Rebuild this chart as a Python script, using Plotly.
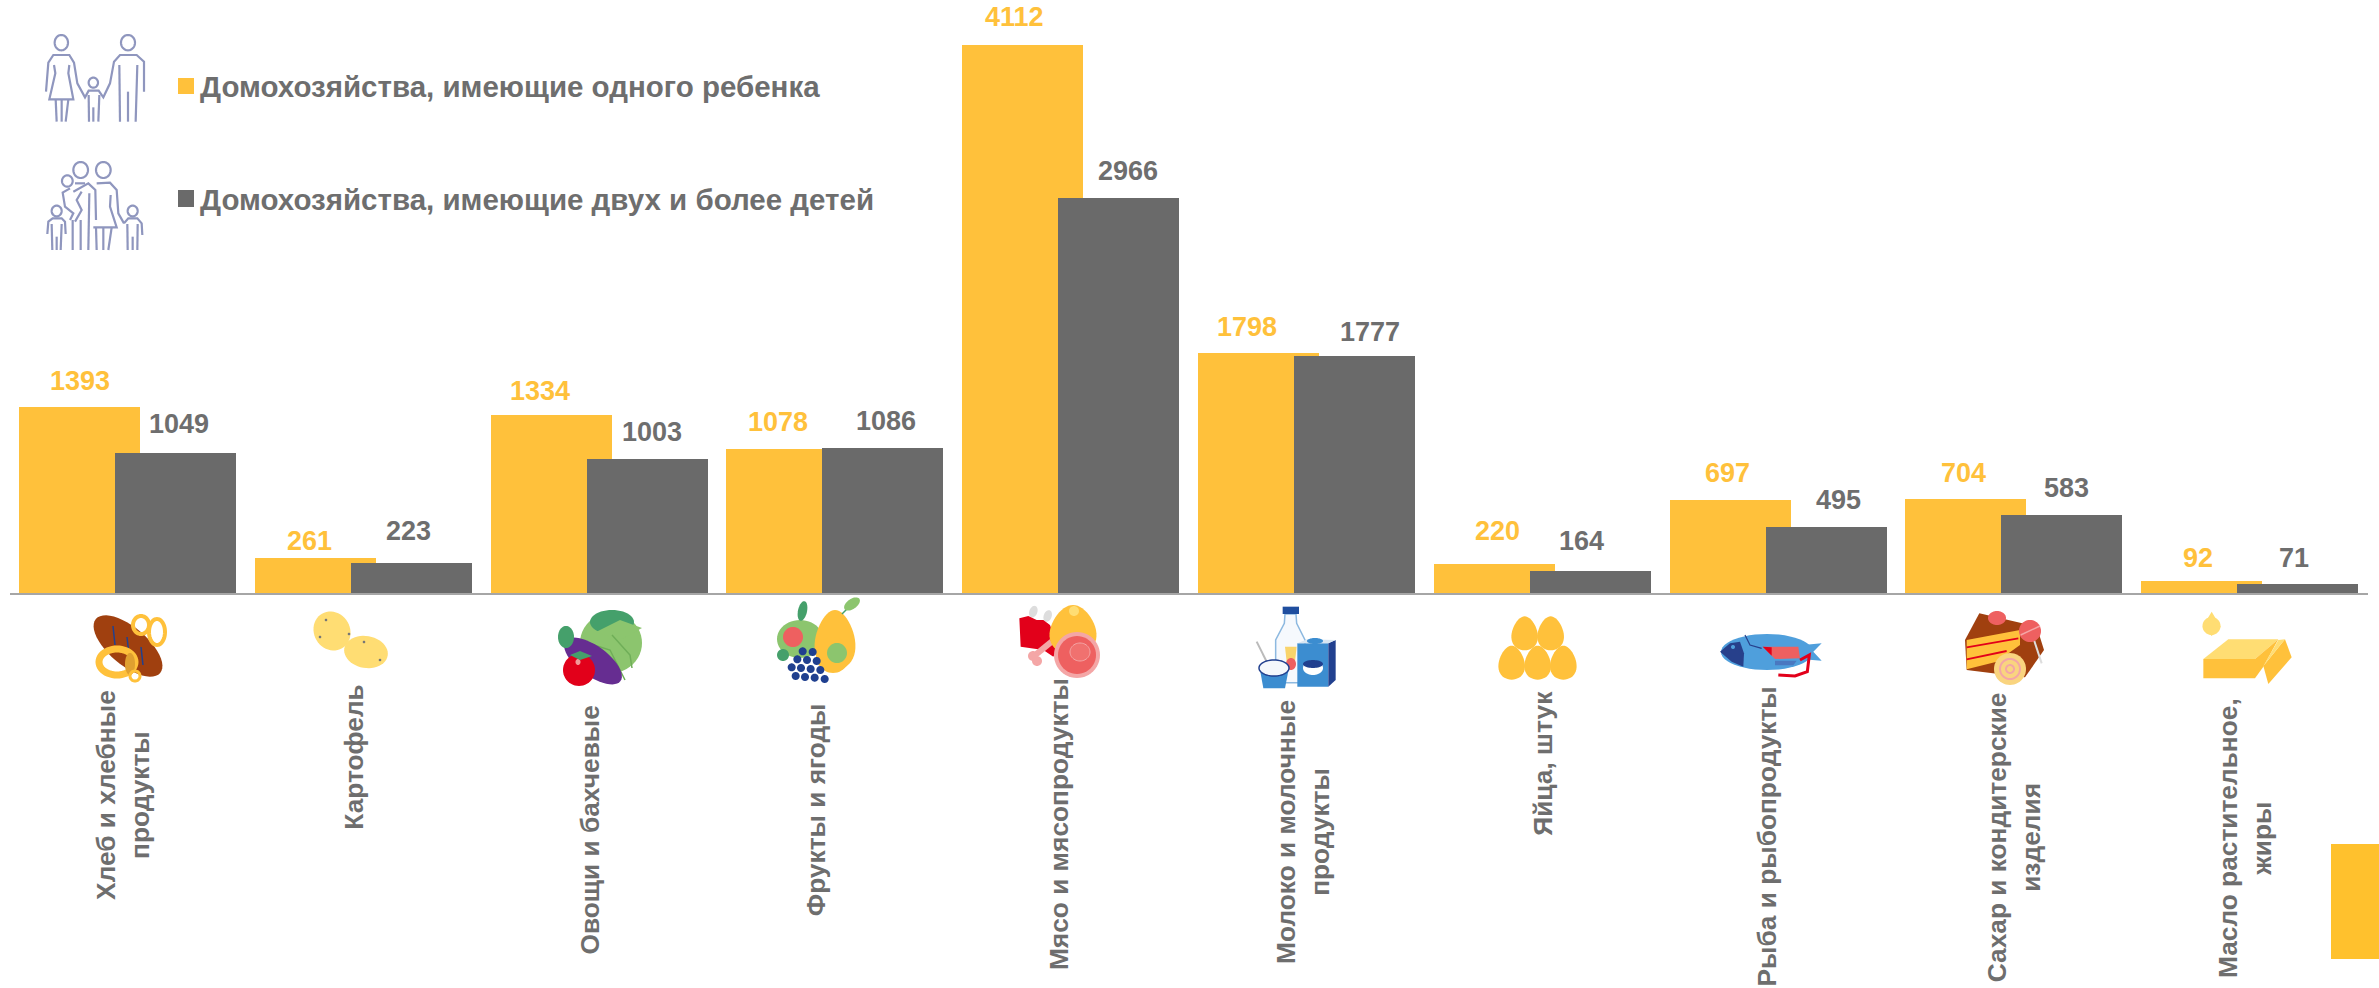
import math
import plotly.graph_objects as go

# ---------- data ----------
categories = ["Хлеб и хлебные<br>продукты", "Картофель", "Овощи и бахчевые", "Фрукты и ягоды",
              "Мясо и мясопродукты", "Молоко и молочные<br>продукты", "Яйца, штук",
              "Рыба и рыбопродукты", "Сахар и кондитерские<br>изделия", "Масло растительное,<br>жиры"]
one_child = [1393, 261, 1334, 1078, 4112, 1798, 220, 697, 704, 92]
two_plus = [1049, 223, 1003, 1086, 2966, 1777, 164, 495, 583, 71]
name_one = "Домохозяйства, имеющие одного ребенка"
name_two = "Домохозяйства, имеющие двух и более детей"

# ---------- label placement (pixels) ----------
one_dx = [0, -6, -12, -9, -9, -12, 3, -3, -3, -4]
two_dx = [3, -3, 4, 3, 9, 15, -9, 12, 4, -4]
one_dy = [26, 17, 24, 27, 28, 26, 33, 27, 26, 23]
two_dy = [29, 32, 27, 27, 27, 24, 30, 27, 27, 26]
cat_label_dx = [-5, -10, -10, -19, -12, -4, 0, -12, 0, -5]
cat_label_cy = [795, 757, 830, 810, 824, 832, 763, 837, 837, 838]

YELLOW = "#FFC13B"
GRAY = "#6A6A6A"
TEXT = "#6E6E6E"
FONT = "Liberation Sans"
W, H = 2379, 988
L, R_EDGE, BASE = 10, 2368, 593
PX_PER_UNIT = 0.13333


def px(x):
    return (x - L) / (R_EDGE - L)


def py(y):
    return (BASE - y) / BASE


shapes = []


def poly(pts, color, close=True, stroke=None, sw=0):
    d = "M" + " L".join(f"{px(x):.5f},{py(y):.5f}" for x, y in pts) + (" Z" if close else "")
    shapes.append(dict(type="path", xref="paper", yref="paper", path=d,
                       fillcolor=color if close else "rgba(0,0,0,0)",
                       line=dict(color=stroke or "rgba(0,0,0,0)", width=sw)))


def ell(cx, cy, rx, ry=None, color=YELLOW, rot=0, stroke=None, sw=0, fill=True):
    ry = rx if ry is None else ry
    c, s = math.cos(math.radians(rot)), math.sin(math.radians(rot))
    pts = []
    for i in range(48):
        t = 2 * math.pi * i / 48
        a, b = rx * math.cos(t), ry * math.sin(t)
        pts.append((cx + a * c - b * s, cy + a * s + b * c))
    d = "M" + " L".join(f"{px(x):.5f},{py(y):.5f}" for x, y in pts) + " Z"
    shapes.append(dict(type="path", xref="paper", yref="paper", path=d,
                       fillcolor=color if fill else "rgba(0,0,0,0)",
                       line=dict(color=stroke or "rgba(0,0,0,0)", width=sw)))


def egg(cx, cy, rx, ry, color=YELLOW, rot=0):
    c, s = math.cos(math.radians(rot)), math.sin(math.radians(rot))
    pts = []
    for i in range(48):
        t = 2 * math.pi * i / 48
        a = rx * math.cos(t) * (1 + 0.22 * math.sin(t))
        b = ry * math.sin(t)
        pts.append((cx + a * c - b * s, cy + a * s + b * c))
    poly(pts, color)


def z3(x0, y0, pts):
    return [(x0 + x / 3, y0 + y / 3) for x, y in pts]


LILAC, GREEN, DKGREEN, RED, PINK, LTPINK = "#8F96BE", "#8CC56E", "#45A06B", "#E2001A", "#EE6060", "#F4A6A6"
BLUE, NAVY, PALE = "#3C8DD0", "#21408F", "#FFDD73"
BROWN = "#A0400F"

# ----- family icons -----
def stick(pts):
    poly(z3(20, 20, pts), "", close=False, stroke=LILAC, sw=2.2)


def head(x, y, rx, ry):
    ell(20 + x / 3, 20 + y / 3, rx / 3, ry / 3, color="white", stroke=LILAC, sw=2.2, fill=False)


head(124, 68, 20, 23)
stick([(78, 215), (85, 128), (100, 105), (148, 105), (162, 128), (172, 190), (195, 232), (206, 212), (236, 212), (250, 232), (270, 190), (282, 125), (300, 105), (350, 105), (372, 125), (372, 215)])
stick([(102, 135), (106, 160), (88, 238), (160, 238), (145, 160), (148, 135)])
stick([(107, 238), (110, 305)]); stick([(125, 238), (125, 305)]); stick([(145, 238), (137, 305)])
head(220, 188, 14, 15)
stick([(206, 225), (207, 305)]); stick([(238, 225), (235, 305)]); stick([(220, 262), (220, 305)])
head(324, 68, 21, 23)
stick([(298, 135), (300, 305)]); stick([(352, 135), (347, 305)]); stick([(324, 215), (324, 305)])

head(182, 450, 22, 24)
head(250, 450, 22, 24)
head(142, 483, 16, 17)
stick([(165, 490), (195, 490)])
stick([(150, 505), (128, 518), (135, 560), (160, 580), (150, 600)])
stick([(160, 515), (205, 490), (226, 510), (228, 600)])
stick([(185, 515), (170, 540), (185, 570), (165, 605)])
stick([(230, 490), (270, 488), (290, 510), (295, 580), (312, 610)])
stick([(272, 525), (270, 560), (290, 622), (220, 622)])
stick([(158, 600), (158, 690)]); stick([(182, 600), (182, 690)]); stick([(208, 520), (205, 690)])
stick([(228, 622), (230, 690)]); stick([(250, 622), (250, 690)]); stick([(275, 622), (265, 690)])
head(110, 573, 15, 16)
stick([(82, 642), (85, 605), (98, 595), (125, 595), (135, 605), (137, 642)])
stick([(95, 612), (97, 690)]); stick([(125, 612), (122, 690)]); stick([(110, 650), (110, 690)])
head(338, 573, 15, 16)
stick([(312, 610), (325, 595), (352, 595), (365, 610), (367, 645)])
stick([(322, 612), (323, 690)]); stick([(353, 612), (352, 690)]); stick([(338, 650), (338, 690)])

# ----- bread -----
ell(128, 646, 19, 42, BROWN, rot=-50)
for a, b in [((113, 626), (115, 645)), ((127, 637), (129, 655)), ((141, 647), (143, 665))]:
    poly([a, b], "", close=False, stroke="#21408F", sw=1.5)
ell(141, 625, 8, 9, stroke=YELLOW, sw=4, fill=False)
ell(157, 632, 8, 13, stroke=YELLOW, sw=4, fill=False)
ell(117, 662, 18, 13, stroke=YELLOW, sw=7, fill=False)
ell(130, 664, 5, 11, "#E0A030")
ell(135, 676, 5, 5, stroke=YELLOW, sw=3, fill=False)

# ----- potatoes -----
ell(332, 631, 20, 18, PALE, rot=60)
ell(366, 652, 22, 16, PALE, rot=10)
for x, y in [(326, 620), (349, 634), (320, 637), (380, 660), (364, 642)]:
    ell(x, y, 1.3, 1.3, "#777777")

# ----- vegetables -----
ell(611, 643, 31, 30, GREEN)
ell(612, 622, 22, 12, DKGREEN)
poly([(596, 632), (620, 620), (642, 628), (620, 640)], GREEN)
poly([(578, 640), (610, 650), (625, 680)], "", close=False, stroke="#6FAE58", sw=1.5)
poly([(612, 635), (630, 655), (632, 668)], "", close=False, stroke="#6FAE58", sw=1.5)
ell(593, 661, 34, 15, "#662D91", rot=36)
ell(566, 637, 8, 11, DKGREEN)
ell(579, 670, 16, 16, RED)
ell(578, 662, 2.5, 3, "#F29A9A")
poly([(570, 655), (580, 651), (592, 656), (580, 660)], DKGREEN)

# ----- fruit -----
F = (750, 590)
ell(800, 639, 23, 19, GREEN)
ell(793, 637, 10, 10, PINK)
ell(802.5, 611, 4.5, 10, DKGREEN, rot=12)
egg(835, 640, 20, 30, YELLOW)
ell(833, 655, 17, 18, YELLOW)
ell(837, 653, 10, 10, GREEN)
poly([(842, 614), (850, 606)], "", close=False, stroke=DKGREEN, sw=1.5)
ell(852, 604, 9, 5, GREEN, rot=-35)
ell(783, 655, 6, 6, DKGREEN)
grapes = [(158, 184), (188, 186), (142, 208), (171, 210), (200, 213), (125, 232), (153, 234),
          (182, 237), (211, 240), (137, 258), (165, 261), (194, 263), (224, 267)]
for x, y in z3(*F, grapes):
    ell(x, y, 4, 4, "#1F3F8F")

# ----- meat -----
for x, y in z3(*F, [(850, 65), (893, 78)]):
    ell(x, y, 4, 6, "#DDDDDD", rot=20)
poly(z3(*F, [(808, 85), (835, 78), (860, 90), (880, 90), (900, 105), (925, 170), (910, 200), (880, 180), (812, 170)]), RED)
poly(z3(*F, [(850, 200), (905, 155)]), "", close=False, stroke=LTPINK, sw=6)
ell(1033, 656, 5, 5, LTPINK); ell(1037, 661, 5, 5, LTPINK)
egg(1073, 630, 23, 25, YELLOW)
ell(1074, 611, 5, 5, PALE)
ell(1077, 655, 23, 23, LTPINK)
ell(1077, 655, 19, 19, PINK)
ell(1080, 652, 10, 9, "#F0716F", stroke=LTPINK, sw=1)

# ----- milk -----
M = (1230, 590)
poly(z3(*M, [(165, 72), (198, 72), (200, 100), (225, 150), (225, 278), (137, 278), (137, 150), (163, 100)]), "#F6F9FD", stroke="#8DB9E0", sw=1.5)
poly(z3(*M, [(158, 50), (207, 50), (207, 72), (158, 72)]), "#1F4E9F")
poly(z3(*M, [(165, 170), (200, 170), (195, 215), (170, 215)]), "#F9D46B")
ell(1291, 664, 5, 6, PINK)
poly(z3(*M, [(202, 160), (295, 160), (295, 290), (202, 290)]), BLUE)
poly(z3(*M, [(295, 160), (317, 150), (317, 270), (295, 290)]), NAVY)
poly(z3(*M, [(202, 160), (232, 148), (317, 150), (295, 160)]), "#D8E6F2")
ell(1315, 641, 8, 3, BLUE)
ell(1313, 668, 10, 7, "#FFFFFF")
ell(1313, 664, 10, 4, NAVY)
poly(z3(*M, [(80, 155), (115, 225)]), "", close=False, stroke="#BBBBBB", sw=2)
poly(z3(*M, [(88, 228), (178, 228), (165, 295), (100, 295)]), BLUE)
ell(1274, 668, 15, 8, "#F4F8FC", stroke=NAVY, sw=1.5)

# ----- eggs -----
E = (1230, 590)
for x, y in z3(*E, [(884, 130), (962, 130), (845, 218), (923, 218), (1000, 218)]):
    egg(x, y, 13, 17, YELLOW)

# ----- fish -----
G = (1690, 590)
poly(z3(*G, [(340, 165), (395, 160), (370, 185), (395, 212), (340, 208)]), "#4F9FDC")
ell(1767, 652, 46, 18, "#4F9FDC")
poly(z3(*G, [(90, 185), (120, 160), (150, 155), (162, 190), (160, 230), (125, 215)]), "#27408B")
ell(1733, 647, 2, 2, "#4F9FDC")
poly(z3(*G, [(165, 135), (180, 165), (215, 175)]), "", close=False, stroke="#27408B", sw=1.2)
poly(z3(*G, [(218, 170), (325, 170), (330, 205), (255, 207)]), PINK)
poly(z3(*G, [(218, 170), (245, 172), (245, 197)]), RED)
poly(z3(*G, [(330, 210), (358, 195), (352, 245), (315, 258), (265, 255)]), "", close=False, stroke=RED, sw=3)
poly(z3(*G, [(255, 212), (320, 212), (310, 226), (255, 226)]), "#4A78C0")

# ----- cake -----
poly(z3(*G, [(868, 70), (1040, 110), (1062, 180), (1005, 262), (830, 240), (825, 150)]), BROWN)
poly(z3(*G, [(830, 150), (990, 120), (990, 165), (920, 215), (830, 238)]), YELLOW)
poly(z3(*G, [(830, 172), (985, 145)]), "", close=False, stroke=RED, sw=1.8)
poly(z3(*G, [(830, 208), (950, 183)]), "", close=False, stroke=RED, sw=1.8)
ell(1997, 618, 9, 7, PINK)
poly(z3(*G, [(1032, 150), (1055, 220)]), "", close=False, stroke="#DDDDDD", sw=2)
ell(2030, 631, 11, 11, PINK)
poly(z3(*G, [(992, 135), (1050, 108)]), "", close=False, stroke=LTPINK, sw=1.5)
ell(2010, 669, 16, 16, "#F9D47F")
ell(2010, 669, 10, 10, color="white", stroke="#F4A6A6", sw=2, fill=False)
ell(2010, 669, 4, 4, color="white", stroke="#F4A6A6", sw=2, fill=False)

# ----- butter -----
B = (1900, 560)
poly(z3(*B, [(935, 155), (962, 200), (935, 228), (908, 200)]), PALE)
ell(2211.5, 626, 9, 9, PALE)
poly(z3(*B, [(910, 297), (985, 238), (1135, 238), (1065, 297)]), PALE)
poly(z3(*B, [(910, 297), (1065, 297), (1065, 355), (910, 355)]), YELLOW)
poly(z3(*B, [(1065, 297), (1135, 238), (1090, 320), (1065, 355)]), YELLOW)
poly(z3(*B, [(1090, 318), (1155, 238), (1175, 292), (1105, 372)]), YELLOW)
poly(z3(*B, [(1090, 318), (1135, 240), (1155, 238)]), PALE)

# ----- legend swatches and corner block -----
poly([(178, 78), (194, 78), (194, 94), (178, 94)], YELLOW)
poly([(178, 190), (194, 190), (194, 207), (178, 207)], GRAY)
poly([(2331, 844), (2379, 844), (2379, 959), (2331, 959)], "#FFC12D")

# ---------- figure ----------
fig = go.Figure()
fig.add_bar(x=categories, y=one_child, name=name_one, marker_color=YELLOW, marker_line_width=0,
            width=0.513, offset=-0.462)
fig.add_bar(x=categories, y=two_plus, name=name_two, marker_color=GRAY, marker_line_width=0,
            width=0.513, offset=-0.055)

ann = []
for i, c in enumerate(categories):
    ann.append(dict(x=c, y=one_child[i], xref="x", yref="y", text=f"<b>{one_child[i]}</b>", showarrow=False,
                    xanchor="center", yanchor="middle",
                    xshift=-48 + one_dx[i], yshift=one_dy[i],
                    font=dict(family=FONT, size=27, color=YELLOW)))
    ann.append(dict(x=c, y=two_plus[i], xref="x", yref="y", text=f"<b>{two_plus[i]}</b>", showarrow=False,
                    xanchor="center", yanchor="middle",
                    xshift=48 + two_dx[i], yshift=two_dy[i],
                    font=dict(family=FONT, size=27, color=TEXT)))
    ann.append(dict(x=c, y=py(cat_label_cy[i]), xref="x", yref="paper", text=f"<b>{c}</b>", showarrow=False,
                    textangle=-90, xanchor="center", yanchor="middle", align="center",
                    xshift=cat_label_dx[i],
                    font=dict(family=FONT, size=26.3, color=TEXT)))
ann.append(dict(x=px(198), y=py(86), xref="paper", yref="paper", text=f"<b>{name_one}</b>", showarrow=False,
                xanchor="left", yanchor="middle", font=dict(family=FONT, size=29.5, color=TEXT)))
ann.append(dict(x=px(198), y=py(199), xref="paper", yref="paper", text=f"<b>{name_two}</b>", showarrow=False,
                xanchor="left", yanchor="middle", font=dict(family=FONT, size=29.5, color=TEXT)))

fig.update_layout(
    width=W, height=H, autosize=False, barmode="overlay", bargap=0, showlegend=False,
    paper_bgcolor="white", plot_bgcolor="white",
    margin=dict(l=L, r=W - R_EDGE, t=0, b=H - BASE, pad=0),
    shapes=shapes, annotations=ann,
    xaxis=dict(type="category", categoryorder="array", categoryarray=categories, range=[-0.5, 9.5],
               showticklabels=False, ticks="", showgrid=False, zeroline=False,
               showline=True, linecolor="#A6A6A6", linewidth=2),
    yaxis=dict(range=[0, BASE / PX_PER_UNIT], visible=False, showgrid=False, zeroline=False),
)
fig.write_html("out.html", config={"displayModeBar": False},
               post_script="document.body.style.margin='0';document.body.style.overflow='hidden';")
